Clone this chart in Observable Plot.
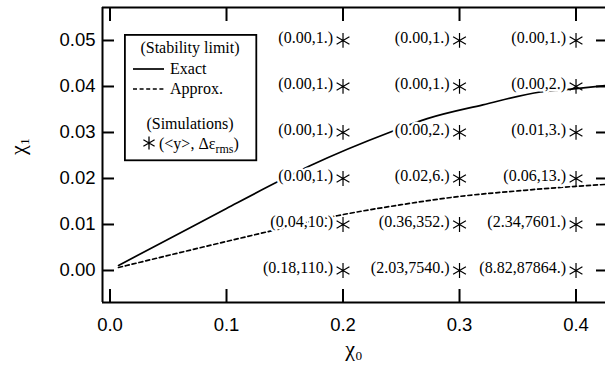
<!DOCTYPE html>
<html>
<head>
<meta charset="utf-8">
<script src="https://cdn.jsdelivr.net/npm/d3@7"></script>
<script src="https://cdn.jsdelivr.net/npm/@observablehq/plot@0.6"></script>
<style>
  html, body { margin: 0; padding: 0; background: #fff; }
  #wrap { position: relative; width: 605px; height: 372px; overflow: hidden; }
  #legend { position: absolute; left: 124px; top: 34px; }
</style>
</head>
<body>
<div id="wrap"></div>
<script>
// ---- data ----
const xTicks = [0.0, 0.1, 0.2, 0.3, 0.4];
const yTicks = [0.00, 0.01, 0.02, 0.03, 0.04, 0.05];

// Stability limit, exact (solid)
const exactX = [0.0073, 0.05, 0.10, 0.1464, 0.1721, 0.2408, 0.2723, 0.32, 0.3695, 0.3979, 0.425];
const exactY = [0.0011, 0.0068, 0.0135, 0.0196, 0.0228, 0.0301, 0.0330, 0.0360, 0.0388, 0.0395, 0.0402];

// Stability limit, approx (dashed)
const approxX = [0.0073, 0.14, 0.195, 0.25, 0.30, 0.35, 0.40, 0.425];
const approxY = [0.00065, 0.0087, 0.0119, 0.0143, 0.0161, 0.0173, 0.0183, 0.0187];

// Simulations
const simX = [0.2, 0.2, 0.2, 0.2, 0.2, 0.2,
              0.3, 0.3, 0.3, 0.3, 0.3, 0.3,
              0.4, 0.4, 0.4, 0.4, 0.4, 0.4];
const simY = [0.00, 0.01, 0.02, 0.03, 0.04, 0.05,
              0.00, 0.01, 0.02, 0.03, 0.04, 0.05,
              0.00, 0.01, 0.02, 0.03, 0.04, 0.05];
const simMeanY = [0.18, 0.04, 0.00, 0.00, 0.00, 0.00,
                  2.03, 0.36, 0.02, 0.00, 0.00, 0.00,
                  8.82, 2.34, 0.06, 0.01, 0.00, 0.00];
const simDeltaEps = [110, 10, 1, 1, 1, 1,
                     7540, 352, 6, 2, 1, 1,
                     87864, 7601, 13, 3, 2, 1];

const xDomain = [-0.00644, 0.4253];
const yDomain = [-0.00696, 0.05717];

// ---- build tables ----
const exact = exactX.map((x, i) => ({x, y: exactY[i]}));
const approx = approxX.map((x, i) => ({x, y: approxY[i]}));
const sims = simX.map((x, i) => ({
  x, y: simY[i],
  label: `(${simMeanY[i].toFixed(2)},${simDeltaEps[i]}.)`
}));

const serif = "'Liberation Serif', 'Times New Roman', serif";
const sans = "'Liberation Sans', Arial, Helvetica, sans-serif";

const chart = Plot.plot({
  width: 605,
  height: 372,
  marginLeft: 102,
  marginRight: 0,
  marginTop: 7,
  marginBottom: 70,
  style: { fontFamily: sans, fontSize: "18.5px", color: "#000", background: "#fff" },
  x: { domain: xDomain, axis: null },
  y: { domain: yDomain, axis: null },
  marks: [
    // axis labels and ticks
    Plot.axisY({ ticks: yTicks, anchor: "left", tickSize: 0, tickPadding: 7, tickFormat: d3.format(".2f"), label: null, fontSize: 18.5 }),
    Plot.axisY({ ticks: yTicks, anchor: "left", tickSize: -12, text: null, label: null, strokeWidth: 2 }),
    Plot.axisY({ ticks: yTicks, anchor: "right", tickSize: -10, text: null, label: null, strokeWidth: 2 }),
    Plot.axisX({ ticks: xTicks, anchor: "bottom", tickSize: 0, tickPadding: 15, tickFormat: d3.format(".1f"), label: null, fontSize: 18.5 }),
    Plot.axisX({ ticks: xTicks, anchor: "bottom", tickSize: -13, text: null, label: null, strokeWidth: 2 }),
    Plot.axisX({ ticks: xTicks, anchor: "top", tickSize: -13, text: null, label: null, strokeWidth: 2 }),
    // frame (left, bottom, top)
    Plot.ruleX([xDomain[0]], { stroke: "#000", strokeWidth: 2 }),
    Plot.ruleY([yDomain[0], yDomain[1]], { stroke: "#000", strokeWidth: 2 }),
    // curves
    Plot.line(exact, { x: "x", y: "y", stroke: "#000", strokeWidth: 1.7, curve: "monotone-x" }),
    Plot.line(approx, { x: "x", y: "y", stroke: "#000", strokeWidth: 1.7, strokeDasharray: "4,3", curve: "monotone-x" }),
    // simulation labels (with white halo)
    Plot.text(sims, { x: "x", y: "y", text: "label", textAnchor: "end", dx: -10, dy: -3,
      fontFamily: serif, fontSize: 16, fill: "#000", stroke: "#fff", strokeWidth: 5, paintOrder: "stroke" }),
    // simulation markers
    Plot.dot(sims, { x: "x", y: "y", symbol: "asterisk", r: 7, stroke: "#000", strokeWidth: 1.2 }),
    // axis titles
    Plot.text(["χ₁"], { frameAnchor: "left", dx: -85, rotate: -90, fontFamily: serif, fontSize: 22, fill: "#000" }),
    Plot.text(["χ₀"], { frameAnchor: "bottom", dy: 53, fontFamily: serif, fontSize: 22, fill: "#000" })
  ]
});

const wrap = document.getElementById("wrap");
wrap.appendChild(chart);

// ---- legend (overlay) ----
const legend = document.createElement("div");
legend.id = "legend";
legend.innerHTML = `
<svg width="134" height="128" xmlns="http://www.w3.org/2000/svg" font-family="'Liberation Serif', 'Times New Roman', serif" font-size="16">
  <rect x="0.9" y="0.9" width="131.4" height="125.4" fill="#fff" stroke="#000" stroke-width="1.8"/>
  <text x="66" y="19" text-anchor="middle">(Stability limit)</text>
  <line x1="9" x2="40" y1="35" y2="35" stroke="#000" stroke-width="1.7"/>
  <text x="46" y="40">Exact</text>
  <line x1="9" x2="40" y1="55" y2="55" stroke="#000" stroke-width="1.7" stroke-dasharray="4,2.6"/>
  <text x="46" y="60">Approx.</text>
  <text x="66" y="95" text-anchor="middle">(Simulations)</text>
  <path transform="translate(25,109)" d="M0,-6.5V6.5M-5.6,-3.25L5.6,3.25M-5.6,3.25L5.6,-3.25" stroke="#000" stroke-width="1.3" fill="none"/>
  <text x="35" y="115">(&lt;y&gt;, Δε<tspan font-size="12" dy="4">rms</tspan><tspan dy="-4">)</tspan></text>
</svg>`;
wrap.appendChild(legend);
</script>
</body>
</html>
